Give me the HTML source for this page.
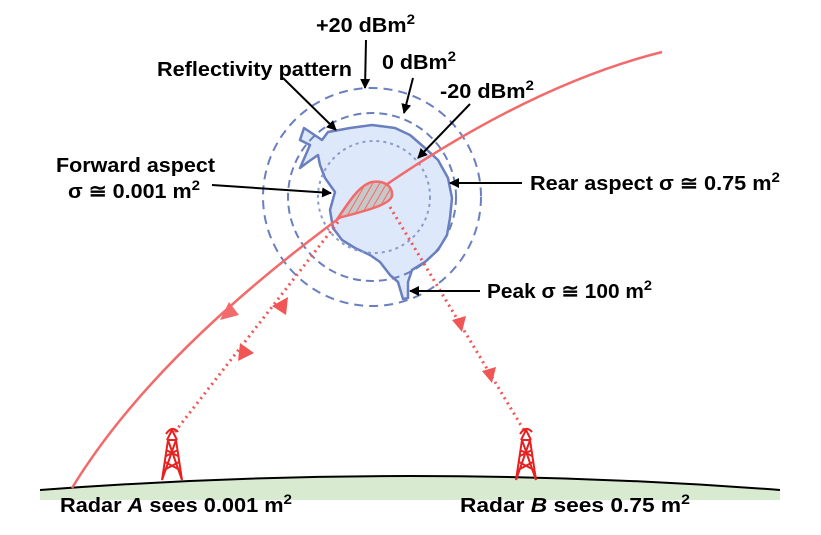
<!DOCTYPE html>
<html><head><meta charset="utf-8"><style>
html,body{margin:0;padding:0;background:#fff}
svg text{font-family:"Liberation Sans",Arial,sans-serif;font-weight:bold;font-size:20px;fill:#000}
</style></head><body>
<svg width="821" height="530" viewBox="0 0 821 530" xmlns="http://www.w3.org/2000/svg">
<defs>
<marker id="ak" markerWidth="10" markerHeight="10" refX="9" refY="5" orient="auto" markerUnits="userSpaceOnUse"><path d="M0,0 L10,5 L0,10 z" fill="#000"/></marker>
<pattern id="hatch" width="6" height="6" patternUnits="userSpaceOnUse" patternTransform="rotate(30)"><rect width="6" height="6" fill="#c8c8c8"/><line x1="0" y1="0" x2="0" y2="6" stroke="#f26a6a" stroke-width="2"/></pattern>
</defs>
<path d="M40,490 Q410,462 780,490 L780,500 L40,500 z" fill="#d8ead0"/>
<path d="M40,490 Q410,462 780,490" fill="none" stroke="#000" stroke-width="2"/>
<circle cx="372" cy="197" r="109" fill="none" stroke="#6a7fc0" stroke-width="2" stroke-dasharray="9,6"/>
<path d="M304,128 L322,140 L328,132 L350,128 L372,125 L395,128 L410,135 L425,148 L438,160 L448,178 L452,198 L450,218 L447,235 L438,250 L425,262 L412,270 L408,282 L408,298 L403,299 L398,282 L390,275 L380,262 L370,255 L355,248 L342,240 L333,228 L330,210 L335,192 L325,178 L320,165 L318,155 L308,162 L300,168 L310,145 L300,140 Z" fill="#dde8fa" stroke="#6a7fc0" stroke-width="2.5" stroke-linejoin="round"/>
<circle cx="372" cy="197" r="84" fill="none" stroke="#6a7fc0" stroke-width="2" stroke-dasharray="8,5"/>
<circle cx="374" cy="197" r="56" fill="none" stroke="#8a9ccc" stroke-width="2" stroke-dasharray="3,4"/>
<line x1="338" y1="222" x2="174" y2="433" stroke="#f25555" stroke-width="3" stroke-dasharray="2,4"/>
<line x1="390" y1="207" x2="525" y2="432" stroke="#f25555" stroke-width="3" stroke-dasharray="2,4"/>
<path d="M288,297 L286,315 L272,306 z" fill="#f25555"/>
<path d="M238,361 L240,343 L254,353 z" fill="#f25555"/>
<path d="M462,332 L452,320 L466,316 z" fill="#f25555"/>
<path d="M492,383 L482,371 L496,367 z" fill="#f25555"/>
<path d="M72,488 Q150,360 330,225 Q510,90 662,52" fill="none" stroke="#f26a6a" stroke-width="2.5"/>
<path d="M220,320 L229,302 L239,315 z" fill="#f26a6a"/>
<path d="M338,218 C350,200 360,185 372,182 C385,180 393,187 392,196 C390,204 370,210 338,218 z" fill="url(#hatch)" stroke="#f26a6a" stroke-width="2.5"/>
<g stroke="#e82020" stroke-width="2" fill="none">
<path d="M162,480 L168,440 L176,440 L182,480 M162,480 L176,440 M182,480 L168,440 M165,462 L180,470 M179,462 L164,470 M166,450 L178,456 M178,450 L166,456"/>
<path d="M167,440 L172,430 L177,440 M166,434 Q172,425 178,432"/>
<path d="M516,480 L522,440 L530,440 L536,480 M516,480 L530,440 M536,480 L522,440 M519,462 L534,470 M533,462 L518,470 M520,450 L532,456 M532,450 L520,456"/>
<path d="M521,440 L526,430 L531,440 M520,434 Q526,425 532,432"/>
</g>
<g stroke="#000" stroke-width="2" marker-end="url(#ak)">
<line x1="366" y1="40" x2="365" y2="88"/>
<line x1="413" y1="78" x2="404" y2="113"/>
<line x1="470" y1="104" x2="418" y2="158"/>
<line x1="283" y1="78" x2="336" y2="130"/>
<line x1="212" y1="185" x2="331" y2="193"/>
<line x1="522" y1="183" x2="450" y2="183"/>
<line x1="480" y1="291" x2="410" y2="291"/>
</g>
<text x="316" y="32" textLength="99" lengthAdjust="spacingAndGlyphs">+20 dBm<tspan dy="-8" font-size="14">2</tspan></text>
<text x="157" y="76" textLength="195" lengthAdjust="spacingAndGlyphs">Reflectivity pattern</text>
<text x="382" y="69" textLength="74" lengthAdjust="spacingAndGlyphs">0 dBm<tspan dy="-8" font-size="14">2</tspan></text>
<text x="440" y="98" textLength="94" lengthAdjust="spacingAndGlyphs">-20 dBm<tspan dy="-8" font-size="14">2</tspan></text>
<text x="56" y="172" textLength="159" lengthAdjust="spacingAndGlyphs">Forward aspect</text>
<text x="68" y="198" textLength="132" lengthAdjust="spacingAndGlyphs">σ ≅ 0.001 m<tspan dy="-8" font-size="14">2</tspan></text>
<text x="530" y="190" textLength="250" lengthAdjust="spacingAndGlyphs">Rear aspect σ ≅ 0.75 m<tspan dy="-8" font-size="14">2</tspan></text>
<text x="487" y="298" textLength="165" lengthAdjust="spacingAndGlyphs">Peak σ ≅ 100 m<tspan dy="-8" font-size="14">2</tspan></text>
<text x="60" y="512" textLength="232" lengthAdjust="spacingAndGlyphs">Radar <tspan font-style="italic">A</tspan> sees 0.001 m<tspan dy="-8" font-size="14">2</tspan></text>
<text x="460" y="512" textLength="230" lengthAdjust="spacingAndGlyphs">Radar <tspan font-style="italic">B</tspan> sees 0.75 m<tspan dy="-8" font-size="14">2</tspan></text>
</svg>
</body></html>
